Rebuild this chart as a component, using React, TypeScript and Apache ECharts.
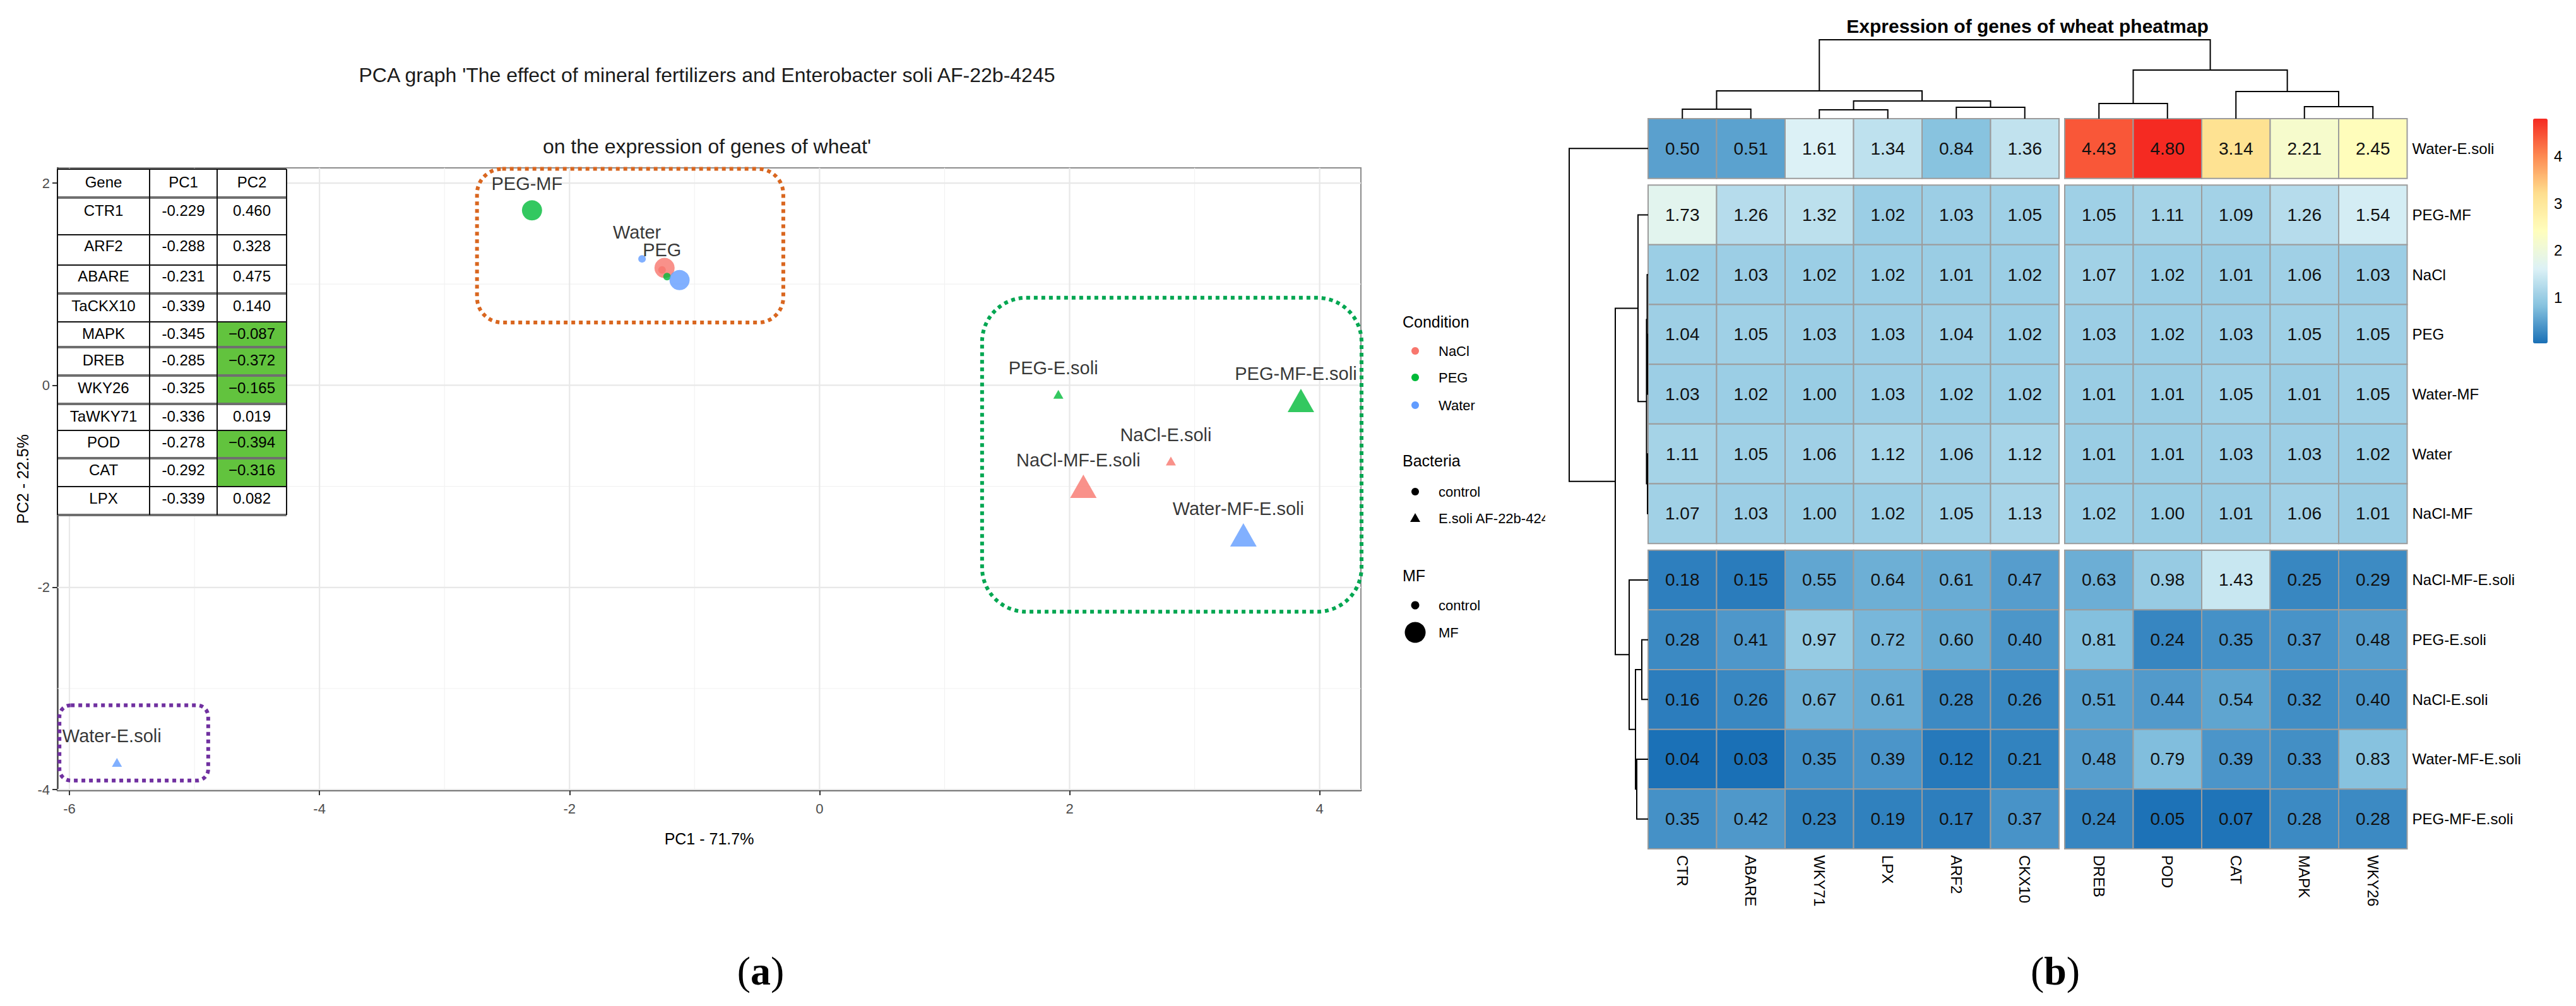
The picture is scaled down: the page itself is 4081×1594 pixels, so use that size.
import React, { useEffect, useRef } from "react";
import * as echarts from "echarts";

const FONT = '"Liberation Sans", Arial, Helvetica, sans-serif';
const SERIF = '"Liberation Serif", "Times New Roman", serif';

// ---------------- PCA (panel a) ----------------
const sampleNames = ["Water", "NaCl", "NaCl-MF", "PEG", "Water-MF", "PEG-MF", "PEG-E.soli", "NaCl-E.soli", "Water-E.soli", "PEG-MF-E.soli", "NaCl-MF-E.soli", "Water-MF-E.soli"];
const sampleCondition = ["Water", "NaCl", "NaCl", "PEG", "Water", "PEG", "PEG", "NaCl", "Water", "PEG", "NaCl", "Water"];
const sampleBacteria = ["control", "control", "control", "control", "control", "control", "E.soli AF-22b-4245", "E.soli AF-22b-4245", "E.soli AF-22b-4245", "E.soli AF-22b-4245", "E.soli AF-22b-4245", "E.soli AF-22b-4245"];
const sampleMF = ["control", "control", "MF", "control", "MF", "MF", "control", "control", "control", "MF", "MF", "MF"];
const pc1Values = [-1.42, -1.26, -1.24, -1.22, -1.12, -2.30, 1.91, 2.81, -5.62, 3.85, 2.11, 3.39];
const pc2Values = [1.25, 1.14, 1.16, 1.075, 1.04, 1.73, -0.09, -0.75, -3.73, -0.15, -1.0, -1.48];
const labelShown = [true, false, false, true, false, true, true, true, true, true, true, true];

const conditionLevels = ["NaCl", "PEG", "Water"];
const conditionColors: Record<string, string> = { NaCl: "#F8766D", PEG: "#00BA38", Water: "#619CFF" };
const bacteriaLevels = ["control", "E.soli AF-22b-4245"];
const mfLevels = ["control", "MF"];

const pcaXTicks = [-6, -4, -2, 0, 2, 4];
const pcaYTicks = [-4, -2, 0, 2];
const pcaMinorX = [-5, -3, -1, 1, 3];
const pcaMinorY = [-3, -1, 1];

// highlighted group boxes (data coordinates)
const boxX1 = [-2.74, 1.3, -6.08];
const boxX2 = [-0.29, 4.335, -4.89];
const boxY1 = [2.14, 0.865, -3.165];
const boxY2 = [0.62, -2.24, -3.91];
const boxColors = ["#D9661F", "#00A651", "#7030A0"];
const boxRadius = [40, 70, 18];

// loadings table
const tableHeader = ["Gene", "PC1", "PC2"];
const tableGenes = ["CTR1", "ARF2", "ABARE", "TaCKX10", "MAPK", "DREB", "WKY26", "TaWKY71", "POD", "CAT", "LPX"];
const tablePC1 = [-0.229, -0.288, -0.231, -0.339, -0.345, -0.285, -0.325, -0.336, -0.278, -0.292, -0.339];
const tablePC2 = [0.46, 0.328, 0.475, 0.14, -0.087, -0.372, -0.165, 0.019, -0.394, -0.316, 0.082];

// ---------------- heatmap (panel b) ----------------
const colGenes = ["CTR", "ABARE", "WKY71", "LPX", "ARF2", "CKX10", "DREB", "POD", "CAT", "MAPK", "WKY26"];
const rowSamples = ["Water-E.soli", "PEG-MF", "NaCl", "PEG", "Water-MF", "Water", "NaCl-MF", "NaCl-MF-E.soli", "PEG-E.soli", "NaCl-E.soli", "Water-MF-E.soli", "PEG-MF-E.soli"];
const heatRow0 = [0.5, 0.51, 1.61, 1.34, 0.84, 1.36, 4.43, 4.8, 3.14, 2.21, 2.45];
const heatRow1 = [1.73, 1.26, 1.32, 1.02, 1.03, 1.05, 1.05, 1.11, 1.09, 1.26, 1.54];
const heatRow2 = [1.02, 1.03, 1.02, 1.02, 1.01, 1.02, 1.07, 1.02, 1.01, 1.06, 1.03];
const heatRow3 = [1.04, 1.05, 1.03, 1.03, 1.04, 1.02, 1.03, 1.02, 1.03, 1.05, 1.05];
const heatRow4 = [1.03, 1.02, 1.0, 1.03, 1.02, 1.02, 1.01, 1.01, 1.05, 1.01, 1.05];
const heatRow5 = [1.11, 1.05, 1.06, 1.12, 1.06, 1.12, 1.01, 1.01, 1.03, 1.03, 1.02];
const heatRow6 = [1.07, 1.03, 1.0, 1.02, 1.05, 1.13, 1.02, 1.0, 1.01, 1.06, 1.01];
const heatRow7 = [0.18, 0.15, 0.55, 0.64, 0.61, 0.47, 0.63, 0.98, 1.43, 0.25, 0.29];
const heatRow8 = [0.28, 0.41, 0.97, 0.72, 0.6, 0.4, 0.81, 0.24, 0.35, 0.37, 0.48];
const heatRow9 = [0.16, 0.26, 0.67, 0.61, 0.28, 0.26, 0.51, 0.44, 0.54, 0.32, 0.4];
const heatRow10 = [0.04, 0.03, 0.35, 0.39, 0.12, 0.21, 0.48, 0.79, 0.39, 0.33, 0.83];
const heatRow11 = [0.35, 0.42, 0.23, 0.19, 0.17, 0.37, 0.24, 0.05, 0.07, 0.28, 0.28];
const heatRows = [heatRow0, heatRow1, heatRow2, heatRow3, heatRow4, heatRow5, heatRow6, heatRow7, heatRow8, heatRow9, heatRow10, heatRow11];

// cluster cuts (gaps) : after column 6, after rows 1 and 7
const colCut = 6;
const rowCuts = [1, 7];

// dendrograms: [childA, childB, height]; leaves are 0..n-1, merge k creates node n+k
const colMerges = [[0, 1, 15], [2, 3, 14], [4, 5, 18], [12, 13, 28], [11, 14, 44], [6, 7, 24], [9, 10, 19], [8, 17, 43], [16, 18, 77], [15, 19, 125]];
const rowMerges = [[3, 4, 1], [2, 12, 1.5], [5, 6, 1], [13, 14, 2.5], [1, 15, 16], [8, 9, 10], [10, 11, 18], [17, 18, 20], [7, 19, 30], [16, 20, 52], [0, 21, 125]];

const legendTicks = [1, 2, 3, 4];
const heatMin = 0.03;
const heatMax = 4.8;
const heatPalette = ["#1a70b6", "#86c2df", "#ddf2f6", "#fffebd", "#fedf8e", "#fd8a52", "#f52a22"];

// ---------------- helpers ----------------
const GX = 9 / 108.5; // gap in column units
const GY = 10.5 / 94.7; // gap in row units
const colPos = (c: number) => c + (c >= colCut ? GX : 0);
const rowPos = (r: number) => r + rowCuts.filter((k) => r >= k).length * GY;

function buildDendro(leafPos: number[], merges: number[][]) {
  const pos = [...leafPos];
  const hgt = leafPos.map(() => 0);
  const segs: number[][] = [];
  merges.forEach(([a, b, h]) => {
    segs.push([pos[a], hgt[a], pos[b], hgt[b], h]);
    pos.push((pos[a] + pos[b]) / 2);
    hgt.push(h);
  });
  return segs;
}

function txt(text: string, x: number, y: number, size: number, extra: any = {}) {
  const align = extra.align || "left";
  const valign = extra.valign || "middle";
  return {
    type: "text",
    z: extra.z ?? 50,
    x: 0,
    y: 0,
    rotation: extra.rotation || 0,
    silent: true,
    style: {
      text,
      x,
      y,
      fill: extra.fill || "#000",
      fontSize: size,
      fontFamily: extra.fontFamily || FONT,
      fontWeight: extra.fontWeight || "normal",
      align,
      verticalAlign: valign,
      textAlign: align,
      textVerticalAlign: valign,
      rich: extra.rich,
    },
  };
}

function buildOption() {
  // ---------- PCA scatter ----------
  const pcaData = sampleNames.map((name, i) => {
    const tri = sampleBacteria[i] !== "control";
    const big = sampleMF[i] === "MF";
    return {
      name,
      value: [pc1Values[i], pc2Values[i]],
      symbol: tri ? "triangle" : "circle",
      symbolSize: tri ? (big ? [42, 37] : [16, 14]) : big ? 32 : 12,
      itemStyle: { color: conditionColors[sampleCondition[i]] },
      label: { show: labelShown[i] },
    };
  });

  const gridLine = (vals: number[], vertical: boolean, color: string, width: number) => ({
    type: "custom",
    xAxisIndex: 0,
    yAxisIndex: 0,
    z: 1,
    silent: true,
    data: vals.map((v) => (vertical ? [v, 0] : [0, v])),
    renderItem: (params: any, api: any) => {
      const cs = params.coordSys;
      const p = api.coord([api.value(0), api.value(1)]);
      const shape = vertical
        ? { x1: p[0], y1: cs.y, x2: p[0], y2: cs.y + cs.height }
        : { x1: cs.x, y1: p[1], x2: cs.x + cs.width, y2: p[1] };
      return { type: "line", shape, style: { stroke: color, lineWidth: width } };
    },
  });

  // ---------- heatmap ----------
  const heatData: number[][] = [];
  heatRows.forEach((row, r) => row.forEach((v, c) => heatData.push([c, r, v])));

  const colLeaf = colGenes.map((_, c) => colPos(c) + 0.5);
  const rowLeaf = rowSamples.map((_, r) => rowPos(r) + 0.5);
  const colSegs = buildDendro(colLeaf, colMerges);
  const rowSegs = buildDendro(rowLeaf, rowMerges);
  const xMaxHeat = colGenes.length + GX;
  const yMaxHeat = rowSamples.length + rowCuts.length * GY;

  const series: any[] = [
    gridLine(pcaMinorX, true, "#f2f2f2", 1.2),
    gridLine(pcaMinorY, false, "#f2f2f2", 1.2),
    gridLine(pcaXTicks, true, "#e8e8e8", 2.2),
    gridLine(pcaYTicks, false, "#e8e8e8", 2.2),
    {
      type: "custom",
      xAxisIndex: 0,
      yAxisIndex: 0,
      z: 4,
      silent: true,
      data: boxX1.map((x1, i) => [x1, boxY1[i], boxX2[i], boxY2[i], i]),
      renderItem: (params: any, api: any) => {
        const i = api.value(4);
        const p1 = api.coord([api.value(0), api.value(1)]);
        const p2 = api.coord([api.value(2), api.value(3)]);
        return {
          type: "rect",
          shape: { x: p1[0], y: p1[1], width: p2[0] - p1[0], height: p2[1] - p1[1], r: boxRadius[i] },
          style: { fill: "none", stroke: boxColors[i], lineWidth: 6, lineDash: [6, 6] },
        };
      },
    },
    {
      type: "scatter",
      xAxisIndex: 0,
      yAxisIndex: 0,
      z: 5,
      silent: true,
      data: pcaData,
      label: {
        position: "inside",
        offset: [-8, -42],
        formatter: "{b}",
        color: "#000",
        fontSize: 29,
        fontFamily: FONT,
      },
    },
  ];

  const heatIndex = series.length;
  series.push({
    type: "custom",
    xAxisIndex: 1,
    yAxisIndex: 1,
    silent: true,
    data: heatData,
    renderItem: (params: any, api: any) => {
      const c = api.value(0);
      const r = api.value(1);
      const v = api.value(2);
      const x0 = colPos(c);
      const y0 = rowPos(r);
      const p0 = api.coord([x0, y0]);
      const p1 = api.coord([x0 + 1, y0 + 1]);
      return {
        type: "group",
        children: [
          {
            type: "rect",
            shape: { x: p0[0], y: p0[1], width: p1[0] - p0[0], height: p1[1] - p0[1] },
            style: { fill: api.visual("color"), stroke: "#9c9c9c", lineWidth: 2 },
          },
          {
            type: "text",
            style: {
              text: v.toFixed(2),
              x: (p0[0] + p1[0]) / 2,
              y: (p0[1] + p1[1]) / 2,
              align: "center",
              verticalAlign: "middle",
              fill: "#111",
              fontSize: 28,
              fontFamily: FONT,
            },
          },
        ],
      };
    },
  });

  // row labels
  series.push({
    type: "custom",
    xAxisIndex: 1,
    yAxisIndex: 1,
    silent: true,
    data: rowSamples.map((_, r) => [xMaxHeat, rowPos(r) + 0.5, r]),
    renderItem: (params: any, api: any) => {
      const p = api.coord([api.value(0), api.value(1)]);
      return {
        type: "text",
        style: {
          text: rowSamples[api.value(2)],
          x: p[0] + 8,
          y: p[1],
          align: "left",
          verticalAlign: "middle",
          fill: "#000",
          fontSize: 24,
          fontFamily: FONT,
        },
      };
    },
  });

  // column labels
  series.push({
    type: "custom",
    xAxisIndex: 1,
    yAxisIndex: 1,
    silent: true,
    data: colGenes.map((_, c) => [colPos(c) + 0.5, yMaxHeat, c]),
    renderItem: (params: any, api: any) => {
      const p = api.coord([api.value(0), api.value(1)]);
      return {
        type: "text",
        x: p[0],
        y: p[1] + 10,
        rotation: -Math.PI / 2,
        style: {
          text: colGenes[api.value(2)],
          x: 0,
          y: 0,
          align: "left",
          verticalAlign: "middle",
          fill: "#000",
          fontSize: 24,
          fontFamily: FONT,
        },
      };
    },
  });

  // column dendrogram
  series.push({
    type: "custom",
    xAxisIndex: 2,
    yAxisIndex: 2,
    silent: true,
    data: colSegs,
    renderItem: (params: any, api: any) => {
      const pa = api.value(0), ha = api.value(1), pb = api.value(2), hb = api.value(3), h = api.value(4);
      const pts = [api.coord([pa, ha]), api.coord([pa, h]), api.coord([pb, h]), api.coord([pb, hb])];
      return { type: "polyline", shape: { points: pts }, style: { fill: "none", stroke: "#000", lineWidth: 2 } };
    },
  });

  // row dendrogram
  series.push({
    type: "custom",
    xAxisIndex: 3,
    yAxisIndex: 3,
    silent: true,
    data: rowSegs,
    renderItem: (params: any, api: any) => {
      const pa = api.value(0), ha = api.value(1), pb = api.value(2), hb = api.value(3), h = api.value(4);
      const pts = [api.coord([ha, pa]), api.coord([h, pa]), api.coord([h, pb]), api.coord([hb, pb])];
      return { type: "polyline", shape: { points: pts }, style: { fill: "none", stroke: "#000", lineWidth: 2 } };
    },
  });

  // ---------- graphic: titles, legend, table, panel labels ----------
  const graphic: any[] = [];
  graphic.push(txt("PCA graph 'The effect of mineral fertilizers and Enterobacter soli AF-22b-4245", 1120, 119, 32, { align: "center", fill: "#1a1a1a" }));
  graphic.push(txt("on the expression of genes of wheat'", 1120, 232, 32, { align: "center", fill: "#1a1a1a" }));
  graphic.push(txt("Expression of genes of wheat pheatmap", 3212, 41, 30, { align: "center", fontWeight: "bold" }));

  // legend of PCA
  const LX = 2222, KX = 2242, TX = 2279;
  graphic.push(txt("Condition", LX, 510, 25));
  const condY = [556, 598, 642];
  conditionLevels.forEach((lv, i) => {
    graphic.push({ type: "circle", z: 50, silent: true, shape: { cx: KX, cy: condY[i], r: 6 }, style: { fill: conditionColors[lv] } });
    graphic.push(txt(lv, TX, condY[i], 22));
  });
  graphic.push(txt("Bacteria", LX, 730, 25));
  const bacY = [779, 821];
  graphic.push({ type: "circle", z: 50, silent: true, shape: { cx: KX, cy: bacY[0], r: 6 }, style: { fill: "#000" } });
  graphic.push({ type: "polygon", z: 50, silent: true, shape: { points: [[KX, bacY[1] - 8], [KX - 8, bacY[1] + 6], [KX + 8, bacY[1] + 6]] }, style: { fill: "#000" } });
  bacteriaLevels.forEach((lv, i) => graphic.push(txt(lv, TX, bacY[i], 22)));
  // clipping of the long legend label at the panel edge
  graphic.push({ type: "rect", z: 60, silent: true, shape: { x: 2448, y: 800, width: 32, height: 45 }, style: { fill: "#fff" } });
  graphic.push(txt("MF", LX, 912, 25));
  const mfY = [959, 1002];
  graphic.push({ type: "circle", z: 50, silent: true, shape: { cx: KX, cy: mfY[0], r: 6.5 }, style: { fill: "#000" } });
  graphic.push({ type: "circle", z: 50, silent: true, shape: { cx: KX, cy: mfY[1], r: 16.5 }, style: { fill: "#000" } });
  mfLevels.forEach((lv, i) => graphic.push(txt(lv, TX, mfY[i], 22)));

  // loadings table
  const tColX = [91, 237, 344, 454];
  const tRowY = [268, 313, 372, 420, 465, 510, 550, 595, 640, 682, 726, 771, 816];
  const tTextY = [288, 333, 389, 437, 484, 528, 570, 614, 659, 700, 744, 789];
  const thickRows = [1, 4, 6, 7, 8, 10, 12];
  graphic.push({ type: "rect", z: 40, silent: true, shape: { x: tColX[0], y: tRowY[0], width: tColX[3] - tColX[0], height: tRowY[12] - tRowY[0] }, style: { fill: "#fff" } });
  tablePC2.forEach((v, i) => {
    if (v < 0) {
      graphic.push({ type: "rect", z: 41, silent: true, shape: { x: tColX[2], y: tRowY[i + 1], width: tColX[3] - tColX[2], height: tRowY[i + 2] - tRowY[i + 1] }, style: { fill: "#62C33E" } });
    }
  });
  tRowY.forEach((y, i) => {
    const thick = thickRows.includes(i);
    graphic.push({ type: "line", z: 42, silent: true, shape: { x1: tColX[0], y1: y, x2: tColX[3], y2: y }, style: { stroke: thick ? "#6f6f6f" : "#111", lineWidth: thick ? 4 : 2 } });
  });
  tColX.forEach((x) => {
    graphic.push({ type: "line", z: 42, silent: true, shape: { x1: x, y1: tRowY[0], x2: x, y2: tRowY[12] }, style: { stroke: "#111", lineWidth: 2 } });
  });
  const colMid = [(tColX[0] + tColX[1]) / 2, (tColX[1] + tColX[2]) / 2, (tColX[2] + tColX[3]) / 2];
  tableHeader.forEach((h, j) => graphic.push(txt(h, colMid[j], tTextY[0], 24, { align: "center", z: 43 })));
  tableGenes.forEach((g, i) => {
    const y = tTextY[i + 1];
    const p1 = "-" + Math.abs(tablePC1[i]).toFixed(3);
    const p2 = (tablePC2[i] < 0 ? "\u2212" : "") + Math.abs(tablePC2[i]).toFixed(3);
    graphic.push(txt(g, colMid[0], y, 24, { align: "center", z: 43 }));
    graphic.push(txt(p1, colMid[1], y, 24, { align: "center", z: 43 }));
    graphic.push(txt(p2, colMid[2], y, 24, { align: "center", z: 43 }));
  });

  // panel labels
  const rich = {
    n: { fontFamily: SERIF, fontSize: 64, fontWeight: "normal", fill: "#000", color: "#000" },
    b: { fontFamily: SERIF, fontSize: 64, fontWeight: "bold", fill: "#000", color: "#000" },
  };
  graphic.push(txt("{n|(}{b|a}{n|)}", 1205, 1538, 64, { align: "center", fontFamily: SERIF, rich }));
  graphic.push(txt("{n|(}{b|b}{n|)}", 3256, 1538, 64, { align: "center", fontFamily: SERIF, rich }));

  const hiddenAxis = { show: false, splitLine: { show: false } };

  return {
    animation: false,
    backgroundColor: "#fff",
    textStyle: { fontFamily: FONT },
    grid: [
      { left: 91, top: 266, width: 2065, height: 986, show: true, borderColor: "#8c8c8c", borderWidth: 2, backgroundColor: "#fff" },
      { left: 2611, top: 188, width: 1202.5, height: 1157 },
      { left: 2611, top: 63, width: 1202.5, height: 125 },
      { left: 2486, top: 188, width: 125, height: 1157 },
      { left: 4013, top: 188, width: 23, height: 356 },
    ],
    xAxis: [
      {
        gridIndex: 0,
        type: "value",
        min: -6.096,
        max: 4.33,
        splitLine: { show: false },
        axisLine: { show: true, onZero: false, lineStyle: { color: "#4d4d4d", width: 2.5 } },
        axisTick: { show: true, customValues: pcaXTicks, length: 8, lineStyle: { color: "#333", width: 2 } },
        axisLabel: { customValues: pcaXTicks, fontSize: 22, color: "#4d4d4d", margin: 18, fontFamily: FONT },
        name: "PC1 - 71.7%",
        nameLocation: "middle",
        nameGap: 64,
        nameTextStyle: { fontSize: 25, color: "#000", fontFamily: FONT },
      },
      { gridIndex: 1, type: "value", min: 0, max: xMaxHeat, ...hiddenAxis },
      { gridIndex: 2, type: "value", min: 0, max: xMaxHeat, ...hiddenAxis },
      { gridIndex: 3, type: "value", min: 0, max: 125, inverse: true, ...hiddenAxis },
      { gridIndex: 4, type: "value", min: 0, max: 1, ...hiddenAxis },
    ],
    yAxis: [
      {
        gridIndex: 0,
        type: "value",
        min: -4.005,
        max: 2.15,
        splitLine: { show: false },
        axisLine: { show: true, onZero: false, lineStyle: { color: "#4d4d4d", width: 2.5 } },
        axisTick: { show: true, customValues: pcaYTicks, length: 8, lineStyle: { color: "#333", width: 2 } },
        axisLabel: { customValues: pcaYTicks, fontSize: 22, color: "#4d4d4d", margin: 12, fontFamily: FONT },
        name: "PC2 - 22.5%",
        nameLocation: "middle",
        nameGap: 40,
        nameTextStyle: { fontSize: 25, color: "#000", fontFamily: FONT },
      },
      { gridIndex: 1, type: "value", min: 0, max: yMaxHeat, inverse: true, ...hiddenAxis },
      { gridIndex: 2, type: "value", min: 0, max: 125, ...hiddenAxis },
      { gridIndex: 3, type: "value", min: 0, max: yMaxHeat, inverse: true, ...hiddenAxis },
      {
        gridIndex: 4,
        type: "value",
        min: heatMin,
        max: heatMax,
        position: "right",
        splitLine: { show: false },
        axisLine: { show: false },
        axisTick: { show: false },
        axisLabel: { customValues: legendTicks, fontSize: 24, color: "#000", margin: 10, fontFamily: FONT },
      },
    ],
    visualMap: [
      {
        type: "continuous",
        min: heatMin,
        max: heatMax,
        dimension: 2,
        seriesIndex: [heatIndex],
        calculable: false,
        orient: "vertical",
        left: 4013,
        top: 188,
        padding: 0,
        itemWidth: 23,
        itemHeight: 356,
        inRange: { color: heatPalette },
      },
    ],
    graphic,
    series,
  };
}

export default function App() {
  const ref = useRef<HTMLDivElement>(null);
  useEffect(() => {
    document.body.style.margin = "0";
    const chart = echarts.init(ref.current as HTMLDivElement, null, { renderer: "svg" });
    chart.setOption(buildOption() as any);
    return () => chart.dispose();
  }, []);
  return <div ref={ref} style={{ width: 4081, height: 1594, background: "#fff" }} />;
}
